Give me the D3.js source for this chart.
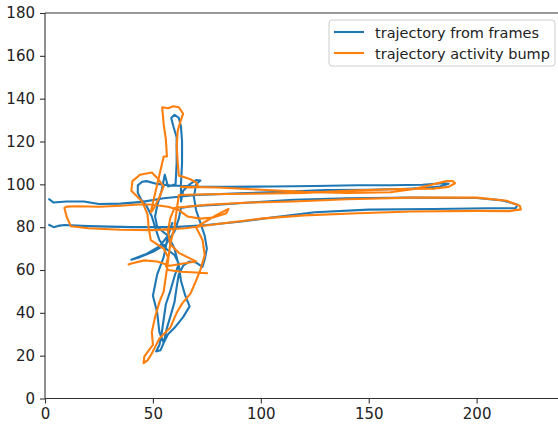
<!DOCTYPE html>
<html>
<head>
<meta charset="utf-8">
<script src="https://cdn.jsdelivr.net/npm/d3@7"></script>
<style>
  body { margin: 0; background: #fff; }
  text { font-family: "DejaVu Sans", sans-serif; fill: #222; }
</style>
</head>
<body>
<div id="chart"></div>
<script>
(function() {
  var width = 558, height = 429;
  var margin = { top: 13, left: 45, bottom: 30 };

  // series names
  var seriesNames = ["trajectory from frames", "trajectory activity bump"];
  var seriesColours = ["#1f77b4", "#ff7f0e"];

  var xTicks = [0, 50, 100, 150, 200];
  var yTicks = [0, 20, 40, 60, 80, 100, 120, 140, 160, 180];

  // trajectory from frames (x, y)
  var framesX = [2, 4, 10, 18, 25, 35, 45, 55, 70, 90, 110, 130, 150, 165, 175, 183, 187, 184, 175, 160, 145, 125, 105, 85, 70, 58, 52, 47, 45, 43, 43, 44.5, 47, 49.5, 51, 53, 56, 60, 62, 60, 58, 56, 55, 54, 53, 51.5, 53.5, 55, 56.5, 58, 60, 61, 62, 64, 67, 70, 73, 74, 75, 74, 72, 70, 69, 70, 72, 70, 67, 64, 63, 63, 63.5, 63.5, 63, 62, 60, 58.5, 59.5, 61, 61, 60.5, 57, 55.5, 54, 52, 51, 52, 57, 60, 62, 63, 65, 67, 64, 60, 57, 55, 53, 52, 50, 52, 55, 57, 59, 57, 53, 47, 43, 40, 44, 50, 56, 60, 62, 63, 68, 80, 95, 115, 140, 170, 200, 212, 219, 218, 205, 180, 150, 125, 105, 90, 75, 60, 40, 20, 9, 6, 4, 2];
  var framesY = [93, 91.5, 92, 92, 90.8, 91, 91.8, 93.5, 95, 95.8, 96.5, 97.3, 97.5, 97.8, 98.3, 99, 100.3, 100.5, 99.8, 99.6, 99.6, 99.2, 99, 98.8, 99, 99.5, 100.2, 101.5, 101.2, 99.5, 96, 93, 90, 85, 80, 74, 70, 67, 63, 57, 50, 44, 37, 30, 25, 22, 22.5, 26, 33, 38, 45, 52, 58, 62, 64, 63.5, 61.5, 65, 70, 76, 82, 88, 94, 100, 101.8, 102, 100, 97, 92, 100, 110, 120, 127, 131, 132.5, 131, 127, 122, 110, 100, 99, 104.5, 97, 90, 85, 80, 76, 70, 62, 55, 48, 43, 38, 33, 30, 26, 31, 40, 48, 58, 66, 76, 82, 76, 71, 67.5, 66, 64.8, 66, 68.5, 72, 78, 84, 89, 89.8, 90.5, 91.5, 92.8, 93.5, 93.8, 93.6, 92.5, 90.5, 88.8, 88.8, 88.5, 88.2, 87, 84.5, 82.5, 81, 80, 80, 80.5, 81, 80.6, 80, 81];

  // trajectory activity bump (x, y)
  var bumpX = [75, 70, 63, 57, 56, 57, 55, 52, 49, 48, 47.5, 45, 42, 40, 40.5, 44, 49.5, 52, 55, 53, 50, 49, 52, 55, 56.5, 56, 55, 54.3, 57, 59.5, 62, 64, 62.8, 61.5, 61, 61.5, 62, 64, 67, 70, 71, 68, 63, 80, 100, 120, 140, 160, 172, 180, 186, 189, 190, 187, 180, 165, 145, 120, 95, 75, 62, 61, 60, 58, 57, 56, 55, 53, 51, 49.5, 50, 48, 46, 45.7, 47.5, 49.5, 51, 53, 56, 58, 61, 63.6, 67.4, 70, 72, 74, 73, 70, 75, 80, 85, 84, 78, 72, 66, 62, 57, 50, 45, 35, 25, 15, 10, 9, 10, 12, 20, 35, 50, 65, 80, 100, 120, 145, 170, 200, 215, 220.5, 220, 214, 200, 170, 140, 115, 95, 75, 60, 58, 57, 58, 62, 66, 70, 64, 58, 52, 46, 40, 38.8];
  var bumpY = [58.5, 58.8, 59.2, 60, 62, 66, 70, 72, 74, 80, 86, 92, 95, 97, 101.5, 104.5, 105.5, 103, 99, 94, 88, 87, 100, 113, 113, 121, 128, 136, 135.5, 136.5, 136, 133, 129.5, 125, 118, 110, 104, 103.5, 102.5, 101, 99, 98.5, 98.8, 98.5, 97.5, 96.5, 96, 96.3, 98, 100, 101.5, 101.5, 100.5, 98.8, 98, 97.8, 97.2, 96, 95.6, 95.4, 95, 88, 80, 72, 64, 57, 50, 45, 38, 31, 25, 22.4, 19.6, 16.5, 17.8, 21, 24, 28, 31, 33, 40, 44.4, 49, 55, 60, 67, 74, 80, 83, 86, 88.5, 86.5, 84.5, 84, 85, 88, 89.5, 90.5, 90.7, 90, 89.5, 89.8, 89.6, 89, 85, 80.4, 79.5, 78.8, 78.6, 79.5, 81.5, 84, 85.5, 86.5, 87.3, 87.6, 87.5, 88.3, 90, 92.3, 93.8, 93.8, 93, 92, 91.5, 90.5, 89, 84, 78, 72, 68, 66, 64, 63, 62, 64, 64.5, 63, 62.6];

  var svg = d3.select("#chart")
    .append("svg")
    .attr("width", width)
    .attr("height", height);

  var xPositionScale = d3.scaleLinear().domain([0, 237.7]).range([margin.left, width]);
  var yPositionScale = d3.scaleLinear().domain([0, 180]).range([height - margin.bottom - 0.5, margin.top]);

  var line = d3.line()
    .x(function(d) { return xPositionScale(d[0]) })
    .y(function(d) { return yPositionScale(d[1]) });

  var framesData = d3.zip(framesX, framesY);
  var bumpData = d3.zip(bumpX, bumpY);

  [framesData, bumpData].forEach(function(data, i) {
    svg.append("path")
      .datum(data)
      .attr("d", line)
      .attr("fill", "none")
      .attr("stroke", seriesColours[i])
      .attr("stroke-width", 2.1)
      .attr("stroke-linejoin", "round")
      .attr("stroke-linecap", "square");
  });

  var xAxis = d3.axisBottom(xPositionScale).tickValues(xTicks).tickSize(5).tickPadding(5);
  var yAxis = d3.axisLeft(yPositionScale).tickValues(yTicks).tickSize(5).tickPadding(5);

  var xg = svg.append("g")
    .attr("transform", "translate(0," + yPositionScale(0) + ")")
    .call(xAxis);
  var yg = svg.append("g")
    .attr("transform", "translate(" + margin.left + ",0)")
    .call(yAxis);

  [xg, yg].forEach(function(g) {
    g.select(".domain").remove();
    g.selectAll("line").attr("stroke", "#333").attr("stroke-width", 1.1);
    g.selectAll("text").attr("font-size", "15px").attr("fill", "#222")
      .style("font-family", "DejaVu Sans, sans-serif");
  });

  // spines (left, bottom, top)
  svg.append("line")
    .attr("x1", margin.left).attr("x2", margin.left)
    .attr("y1", yPositionScale(180)).attr("y2", yPositionScale(0))
    .attr("stroke", "#333").attr("stroke-width", 1.1);
  svg.append("line")
    .attr("x1", margin.left).attr("x2", width)
    .attr("y1", yPositionScale(0)).attr("y2", yPositionScale(0))
    .attr("stroke", "#333").attr("stroke-width", 1.1);
  svg.append("line")
    .attr("x1", margin.left).attr("x2", width)
    .attr("y1", yPositionScale(180)).attr("y2", yPositionScale(180))
    .attr("stroke", "#333").attr("stroke-width", 1.1);

  // legend
  var legend = svg.append("g").attr("transform", "translate(329,20)");
  legend.append("rect")
    .attr("width", 226).attr("height", 46)
    .attr("rx", 3)
    .attr("fill", "#fff").attr("fill-opacity", 0.8)
    .attr("stroke", "#ccc").attr("stroke-width", 1);

  seriesNames.forEach(function(name, i) {
    legend.append("line")
      .attr("x1", 5).attr("x2", 35)
      .attr("y1", 12 + i * 21).attr("y2", 12 + i * 21)
      .attr("stroke", seriesColours[i])
      .attr("stroke-width", 2.1);
    legend.append("text")
      .attr("x", 46).attr("y", 17.5 + i * 21)
      .attr("font-size", "14.5px")
      .text(name);
  });
})();
</script>
</body>
</html>
